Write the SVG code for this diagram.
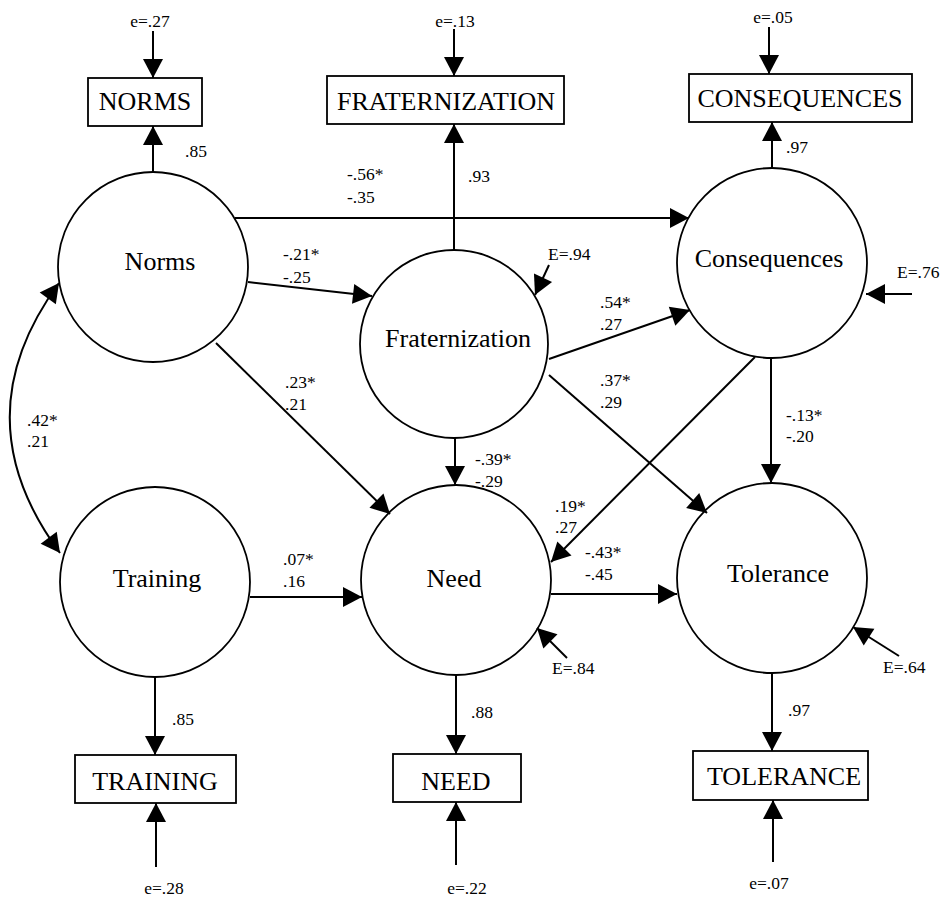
<svg xmlns="http://www.w3.org/2000/svg" width="941" height="899" viewBox="0 0 941 899">
<style>
.c{fill:none;stroke:#000;stroke-width:1.8}
.b{fill:#fff;stroke:#000;stroke-width:1.8}
.l{fill:none;stroke:#000;stroke-width:2;marker-end:url(#ah)}
.d{fill:none;stroke:#000;stroke-width:2;marker-end:url(#ah);marker-start:url(#ah)}
.big{font-family:"Liberation Serif","Times New Roman",serif;font-size:26px;fill:#000;text-anchor:middle}
.s{font-family:"Liberation Serif","Times New Roman",serif;font-size:17.5px;fill:#000}
.m{text-anchor:middle}
</style>
<defs>
<marker id="ah" markerUnits="userSpaceOnUse" markerWidth="22" markerHeight="22" viewBox="0 -11 20 22" refX="19" refY="0" orient="auto-start-reverse">
<path d="M0,-10 L19,0 L0,10 z" fill="#000"/>
</marker>
</defs>
<rect width="941" height="899" fill="#fff"/>

<g id="node-norms"><circle class="c" cx="153" cy="267" r="95"/><text class="big" x="160" y="270">Norms</text></g>
<g id="node-training"><circle class="c" cx="155" cy="582" r="95"/><text class="big" x="157" y="587">Training</text></g>
<g id="node-fraternization"><circle class="c" cx="454" cy="344" r="94"/><text class="big" x="458" y="347">Fraternization</text></g>
<g id="node-need"><circle class="c" cx="456" cy="580" r="95"/><text class="big" x="454" y="587">Need</text></g>
<g id="node-consequences"><circle class="c" cx="772" cy="263" r="95"/><text class="big" x="769" y="267">Consequences</text></g>
<g id="node-tolerance"><circle class="c" cx="772" cy="578" r="95"/><text class="big" x="778" y="582">Tolerance</text></g>

<g id="box-norms"><rect class="b" x="88" y="78" width="114" height="48"/><text class="big" x="145" y="110">NORMS</text></g>
<g id="box-fraternization"><rect class="b" x="327" y="76" width="237" height="48"/><text class="big" x="446" y="110">FRATERNIZATION</text></g>
<g id="box-consequences"><rect class="b" x="689" y="74" width="223" height="48"/><text class="big" x="800" y="107">CONSEQUENCES</text></g>
<g id="box-training"><rect class="b" x="75" y="755" width="161" height="48"/><text class="big" x="155" y="790">TRAINING</text></g>
<g id="box-need"><rect class="b" x="393" y="754" width="128" height="48"/><text class="big" x="456" y="790">NEED</text></g>
<g id="box-tolerance"><rect class="b" x="693" y="751" width="175" height="49"/><text class="big" x="784" y="785">TOLERANCE</text></g>

<g id="connectors">
<!-- measurement errors -->
<line class="l" x1="153" y1="31" x2="153" y2="78"/>
<line class="l" x1="454" y1="29" x2="454" y2="76"/>
<line class="l" x1="769" y1="27" x2="769" y2="74"/>
<line class="l" x1="156" y1="867" x2="156" y2="803"/>
<line class="l" x1="456" y1="865" x2="456" y2="802"/>
<line class="l" x1="773" y1="862" x2="773" y2="800"/>
<!-- loadings -->
<line class="l" x1="153" y1="172" x2="153" y2="126"/>
<line class="l" x1="454" y1="250" x2="454" y2="124"/>
<line class="l" x1="772" y1="168" x2="772" y2="122"/>
<line class="l" x1="155" y1="677" x2="155" y2="755"/>
<line class="l" x1="456" y1="675" x2="456" y2="754"/>
<line class="l" x1="772" y1="673" x2="772" y2="751"/>
<!-- disturbances -->
<line class="l" x1="549" y1="265" x2="535" y2="295"/>
<line class="l" x1="912" y1="294" x2="866" y2="294"/>
<line class="l" x1="567" y1="658" x2="537" y2="628"/>
<line class="l" x1="899" y1="656" x2="853" y2="627"/>
<!-- structural paths -->
<path class="d" d="M59,283 Q-40,418 60,553"/>
<line class="l" x1="235" y1="218" x2="689" y2="218"/>
<line class="l" x1="248" y1="282" x2="372" y2="296"/>
<line class="l" x1="216" y1="343" x2="390" y2="514"/>
<line class="l" x1="250" y1="597" x2="362" y2="597"/>
<line class="l" x1="455" y1="438" x2="455" y2="485"/>
<line class="l" x1="549" y1="359" x2="690" y2="310"/>
<line class="l" x1="549" y1="375" x2="707" y2="513"/>
<line class="l" x1="771" y1="358" x2="771" y2="483"/>
<line class="l" x1="755" y1="357" x2="551" y2="562"/>
<line class="l" x1="551" y1="594" x2="677" y2="594"/>
</g>

<g id="labels">
<text class="s m" x="150" y="27">e=.27</text>
<text class="s m" x="455" y="27">e=.13</text>
<text class="s m" x="773" y="23">e=.05</text>
<text class="s m" x="164" y="894">e=.28</text>
<text class="s m" x="467" y="894">e=.22</text>
<text class="s m" x="769" y="889">e=.07</text>
<text class="s" x="185" y="157">.85</text>
<text class="s" x="468" y="182">.93</text>
<text class="s" x="786" y="153">.97</text>
<text class="s" x="172" y="725">.85</text>
<text class="s" x="471" y="718">.88</text>
<text class="s" x="788" y="716">.97</text>
<text class="s" x="548" y="260">E=.94</text>
<text class="s" x="897" y="278">E=.76</text>
<text class="s" x="552" y="674">E=.84</text>
<text class="s" x="883" y="673">E=.64</text>
<text class="s" x="347" y="180">-.56*</text><text class="s" x="347" y="203">-.35</text>
<text class="s" x="283" y="260">-.21*</text><text class="s" x="283" y="283">-.25</text>
<text class="s" x="285" y="388">.23*</text><text class="s" x="285" y="410">.21</text>
<text class="s" x="27" y="426">.42*</text><text class="s" x="27" y="447">.21</text>
<text class="s" x="283" y="565">.07*</text><text class="s" x="283" y="587">.16</text>
<text class="s" x="475" y="465">-.39*</text><text class="s" x="475" y="487">-.29</text>
<text class="s" x="600" y="308">.54*</text><text class="s" x="600" y="330">.27</text>
<text class="s" x="600" y="386">.37*</text><text class="s" x="600" y="408">.29</text>
<text class="s" x="786" y="421">-.13*</text><text class="s" x="786" y="442">-.20</text>
<text class="s" x="555" y="512">.19*</text><text class="s" x="555" y="533">.27</text>
<text class="s" x="585" y="558">-.43*</text><text class="s" x="585" y="580">-.45</text>
</g>
</svg>
